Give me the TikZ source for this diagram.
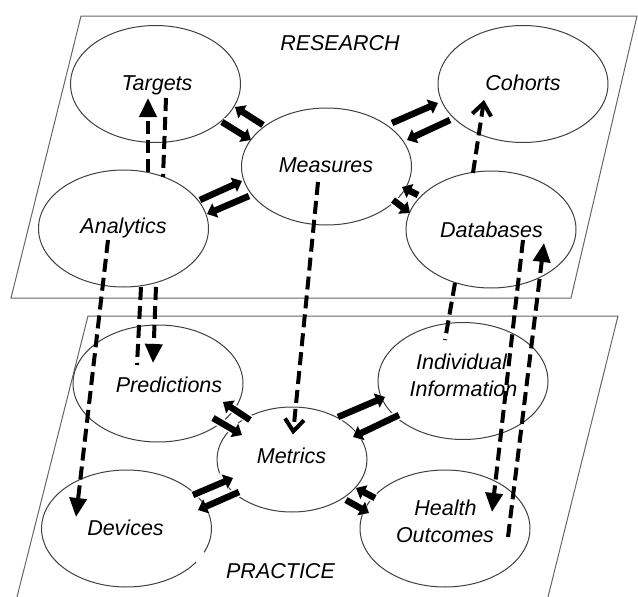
\documentclass[tikz,border=0pt]{standalone}
\usepackage{fontspec}
\setmainfont{Liberation Sans}
\usetikzlibrary{shapes.geometric, arrows.meta}

\begin{document}
\begin{tikzpicture}[x=1pt, y=-1pt,
  plane/.style={draw=black!60, line width=1pt},
  ell/.style={ellipse, draw=black!75, line width=1pt, fill=white,
    minimum width=170pt, minimum height=117pt, inner sep=0pt},
  ellline/.style={draw=black!75, line width=1pt},
  lbl/.style={font=\fontsize{21.5pt}{27pt}\selectfont\itshape, inner sep=0pt, anchor=base},
  flow/.style={line width=6.5pt, -{Triangle[length=9pt,width=15pt]},
    preaction={draw=white, line width=9.5pt, -{Triangle[length=11pt,width=19pt]}}},
  link/.style={line width=4pt, dash pattern=on 13pt off 6pt},
  linkhead/.style={link, -{Triangle[length=19pt,width=17pt]}},
  linkopen/.style={link, -{Straight Barb[length=12pt,width=19pt]}},
]
\useasboundingbox (0,0) rectangle (638,597);

% the two planes
\draw[plane] (81,16) -- (637,16) -- (571,298) -- (11,298) -- cycle;
\draw[plane] (17,597) -- (88,316) -- (618,316) -- (548,597);

% research plane
\node[ell] (tg) at (155.5,84) {};
\node[ell] (an) at (123.5,228.5) {};
\node[ell] (ms) at (326.5,166.5) {};
\node[ell] (co) at (523,84) {};
\node[ell] (db) at (491,229.5) {};

% practice plane
\node[ell] (pr) at (158,383.5) {};
\node[ell, minimum width=150pt, minimum height=105pt] (me) at (292,459.5) {};
\node[ell, draw=none] (dv) at (126.5,528.5) {};
\draw[ellline] (dv.center) ++(35:85 and 58.5) arc[start angle=35, end angle=384, x radius=85, y radius=58.5];
\node[ell] (ii) at (463,381) {};
\node[ell] (ho) at (445,528.5) {};

% two-way exchanges
\draw[flow] ([shift={(-63.5,-41.5)}]ms.center) -- ([shift={(79.5,23)}]tg.center);
\draw[flow] ([shift={(66.5,38)}]tg.center) -- ([shift={(-75.5,-26.5)}]ms.center);
\draw[flow] ([shift={(76.5,-28.5)}]an.center) -- ([shift={(-84.5,14.5)}]ms.center);
\draw[flow] ([shift={(-77.5,29.5)}]ms.center) -- ([shift={(83.5,-14.5)}]an.center);
\draw[flow] ([shift={(65.5,-43.5)}]ms.center) -- ([shift={(-85,19)}]co.center);
\draw[flow] ([shift={(-73,36)}]co.center) -- ([shift={(80.5,-26.5)}]ms.center);
\draw[flow] ([shift={(-73,-34.5)}]db.center) -- ([shift={(75.5,20.5)}]ms.center);
\draw[flow] ([shift={(66.5,33.5)}]ms.center) -- ([shift={(-81,-16.5)}]db.center);
\draw[flow] ([shift={(-42,-39.5)}]me.center) -- ([shift={(65,18.5)}]pr.center);
\draw[flow] ([shift={(55,34.5)}]pr.center) -- ([shift={(-50,-24.5)}]me.center);
\draw[flow] ([shift={(66.5,-33.5)}]dv.center) -- ([shift={(-59,18.5)}]me.center);
\draw[flow] ([shift={(-53,32.5)}]me.center) -- ([shift={(71.5,-18.5)}]dv.center);
\draw[flow] ([shift={(46,-42.5)}]me.center) -- ([shift={(-78,16)}]ii.center);
\draw[flow] ([shift={(-64,34)}]ii.center) -- ([shift={(61,-22.5)}]me.center);
\draw[flow] ([shift={(-70,-30.5)}]ho.center) -- ([shift={(64,28.5)}]me.center);
\draw[flow] ([shift={(54,40.5)}]me.center) -- ([shift={(-76,-15.5)}]ho.center);

% labels
\node[lbl] (research) at (340,50) {RESEARCH};
\node[lbl] (practice) at (280.5,578) {PRACTICE};
\node[lbl] (tgt) at (157,90) {Targets};
\node[lbl] (ant) at (123.5,233) {Analytics};
\node[lbl] (mst) at (326,172) {Measures};
\node[lbl] (cot) at (523,90) {Cohorts};
\node[lbl] (dbt) at (491.5,237) {Databases};
\node[lbl] (prt) at (169,392) {Predictions};
\node[lbl] (met) at (291.5,463) {Metrics};
\node[lbl] (dvt) at (125.5,535) {Devices};
\node[lbl] (iit1) at (461.5,369) {Individual};
\node[lbl] (iit2) at (463.5,396) {Information};
\node[lbl] (hot1) at (445.5,515) {Health};
\node[lbl] (hot2) at (445,542) {Outcomes};

% links between the planes
\draw[linkhead] ([shift={(24.5,-56.5)}]an.center) -- ([shift={(-7.5,14)}]tg.center);
\draw[link] ([shift={(10.5,14)}]tg.center) -- ([shift={(39.5,-51.5)}]an.center);
\draw[linkhead] ([shift={(-15.5,11.5)}]an.center) -- ([shift={(-50.5,-11.5)}]dv.center);
\draw[link] ([shift={(17.5,58.5)}]an.center) -- ([shift={(-21,-18.5)}]pr.center);
\draw[linkhead] ([shift={(32.5,58.5)}]an.center) -- ([shift={(-5,-20.5)}]pr.center);
\draw[linkopen] ([shift={(-8.5,15.5)}]ms.center) -- ([shift={(1,-25)}]me.center);
\draw[linkopen] ([shift={(-18,-56.5)}]db.center) -- ([shift={(-39,16)}]co.center);
\draw[link] ([shift={(-36,53.5)}]db.center) -- ([shift={(-18,-41)}]ii.center);
\draw[linkhead] ([shift={(32,10.5)}]db.center) -- ([shift={(47,-16.5)}]ho.center);
\draw[linkhead] ([shift={(63,8.5)}]ho.center) -- ([shift={(53,13.5)}]db.center);
\end{tikzpicture}
\end{document}
